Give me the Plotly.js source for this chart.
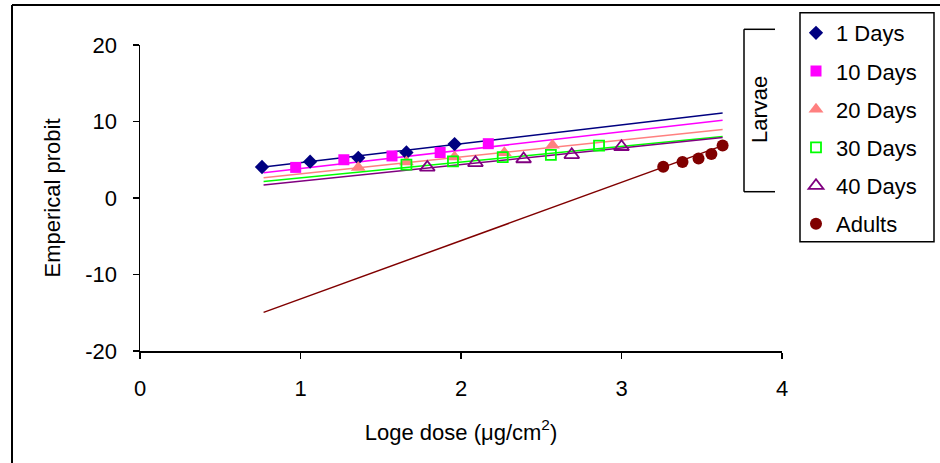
<!DOCTYPE html>
<html>
<head>
<meta charset="utf-8">
<script src="https://cdn.plot.ly/plotly-3.0.1.min.js"></script>
<style>html,body{margin:0;padding:0;background:#fff;}#chart{width:940px;height:463px;}</style>
</head>
<body>
<div id="chart"></div>
<script>
// ---- data ----
const seriesNames = ["1 Days", "10 Days", "20 Days", "30 Days", "40 Days", "Adults"];

const days1X  = [0.76, 1.06, 1.36, 1.66, 1.96];
const days1Y  = [4.05, 4.75, 5.25, 5.95, 7.05];
const days10X = [0.97, 1.27, 1.57, 1.87, 2.17];
const days10Y = [4.0, 5.0, 5.5, 5.95, 7.1];
const days20X = [1.36, 1.66, 1.96, 2.27, 2.57];
const days20Y = [4.0, 4.7, 5.35, 5.9, 6.9];
const days30X = [1.66, 1.95, 2.26, 2.56, 2.86];
const days30Y = [4.35, 4.8, 5.35, 5.65, 6.85];
const days40X = [1.79, 2.09, 2.39, 2.69, 3.0];
const days40Y = [4.0, 4.6, 5.1, 5.65, 6.7];
const adultsX = [3.26, 3.38, 3.48, 3.56, 3.63];
const adultsY = [4.1, 4.7, 5.15, 5.75, 6.85];

// fitted regression lines (end points)
const fitX       = [0.77, 3.63];
const fit1Y      = [4.05, 11.1];
const fit10Y     = [3.3, 10.15];
const fit20Y     = [2.65, 8.95];
const fit30Y     = [2.15, 8.05];
const fit40Y     = [1.7, 7.9];
const fitAdultsY = [-14.95, 6.85];

const xTicks = [0, 1, 2, 3, 4];
const yTicks = [-20, -10, 0, 10, 20];

// ---- styles ----
const colors = ["#000080", "#FF00FF", "#FF8080", "#00FF00", "#800080", "#800000"];
const symbols = ["diamond", "square", "triangle-up", "square-open", "triangle-up-open", "circle"];
const sizes = [11, 11, 13, 10, 13, 12];

const ptsX = [days1X, days10X, days20X, days30X, days40X, adultsX];
const ptsY = [days1Y, days10Y, days20Y, days30Y, days40Y, adultsY];
const fitsY = [fit1Y, fit10Y, fit20Y, fit30Y, fit40Y, fitAdultsY];

const traces = [];
for (let i = 0; i < 6; i++) {
  traces.push({
    x: fitX, y: fitsY[i], mode: "lines", type: "scatter",
    line: {color: colors[i], width: 1.5}, showlegend: false, hoverinfo: "skip"
  });
}
for (let i = 0; i < 6; i++) {
  traces.push({
    x: ptsX[i], y: ptsY[i], mode: "markers", type: "scatter", name: seriesNames[i],
    legendgroup: "g" + i,
    marker: {color: colors[i], symbol: symbols[i], size: sizes[i], line: {color: colors[i], width: symbols[i].indexOf("open") >= 0 ? 1.8 : 0}}
  });
}

const L = 140, R = 782, T = 45, B = 351, W = 940, H = 463;
const px = v => (v - L) / (R - L);
const py = v => (B - v) / (B - T);

const font = "Liberation Sans, Arial, sans-serif";

const layout = {
  width: W, height: H,
  margin: {l: L, r: W - R, t: T, b: H - B, autoexpand: false},
  paper_bgcolor: "#fff", plot_bgcolor: "#fff",
  font: {family: font, color: "#000", size: 22},
  showlegend: true,
  legend: {
    x: px(796), y: py(12), xanchor: "left", yanchor: "top",
    borderwidth: 0, bgcolor: "rgba(0,0,0,0)",
    font: {family: font, size: 22, color: "#000"},
    traceorder: "grouped", tracegroupgap: 6.6, itemwidth: 30
  },
  xaxis: {
    range: [0, 4], tickvals: xTicks, ticktext: xTicks.map(String),
    showline: true, linecolor: "#000", linewidth: 1.5,
    ticks: "outside", ticklen: 6, tickcolor: "#000", tickwidth: 1.5,
    showgrid: false, zeroline: false, ticklabelstandoff: 11,
    tickfont: {family: font, size: 22},
    title: {text: "Loge dose (\u03bcg/cm<sup>2</sup>)", font: {family: font, size: 22}, standoff: 24}
  },
  yaxis: {
    range: [-20, 20], tickvals: yTicks, ticktext: yTicks.map(String),
    showline: true, linecolor: "#000", linewidth: 1.5,
    ticks: "outside", ticklen: 6, tickcolor: "#000", tickwidth: 1.5,
    showgrid: false, zeroline: false, ticklabelstandoff: 11,
    tickfont: {family: font, size: 22},
    title: {text: "Emperical probit", font: {family: font, size: 22}, standoff: 18}
  },
  shapes: [
    // outer frame (left and top edges visible)
    {type: "line", xref: "paper", yref: "paper", x0: px(12), x1: px(12), y0: py(5), y1: py(470), line: {color: "#000", width: 2}},
    {type: "line", xref: "paper", yref: "paper", x0: px(12), x1: px(950), y0: py(5), y1: py(5), line: {color: "#000", width: 2}},
    // legend box
    {type: "rect", xref: "paper", yref: "paper", x0: px(800), x1: px(934), y0: py(12.7), y1: py(241.7), line: {color: "#000", width: 1.5}},
    // Larvae bracket
    {type: "line", xref: "paper", yref: "paper", x0: px(744), x1: px(744), y0: py(29.3), y1: py(191.7), line: {color: "#000", width: 1.5}},
    {type: "line", xref: "paper", yref: "paper", x0: px(744), x1: px(775), y0: py(29.3), y1: py(29.3), line: {color: "#000", width: 1.5}},
    {type: "line", xref: "paper", yref: "paper", x0: px(744), x1: px(775), y0: py(191.7), y1: py(191.7), line: {color: "#000", width: 1.5}}
  ],
  annotations: [
    {text: "Larvae", xref: "paper", yref: "paper", x: px(759), y: py(110), textangle: -90,
     showarrow: false, font: {family: font, size: 22, color: "#000"}, xanchor: "center", yanchor: "middle"}
  ]
};

Plotly.newPlot("chart", traces, layout, {displayModeBar: false, staticPlot: true});
</script>
</body>
</html>
